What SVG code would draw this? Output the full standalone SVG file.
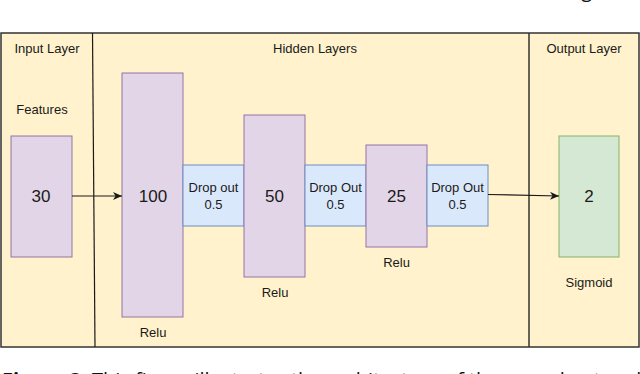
<svg xmlns="http://www.w3.org/2000/svg" width="640" height="374" viewBox="0 0 640 374">
<style>
text{font-family:"Liberation Sans",Arial,sans-serif;fill:#1a1a1a}
.hdr{font-size:13px;text-anchor:middle}
.lbl{font-size:13px;text-anchor:middle}
.num{font-size:17px;text-anchor:middle}
.drop{font-size:13px;text-anchor:middle}
.purple{fill:#e1d5e7;stroke:#9673a6;stroke-width:1}
.blue{fill:#dae8fc;stroke:#6c8ebf;stroke-width:1}
.green{fill:#d5e8d4;stroke:#82b366;stroke-width:1}
.cap{font-family:"Open Sans","Noto Sans",sans-serif;font-size:20px;fill:#111}
.line{stroke:#1a1a1a;stroke-width:1.2;fill:none}
</style>
<defs>
<marker id="arr" markerWidth="10" markerHeight="8" refX="9" refY="4" orient="auto" markerUnits="userSpaceOnUse">
<path d="M0,0 L9,4 L0,8 L2.5,4 Z" fill="#1a1a1a"/>
</marker>
</defs>
<rect width="640" height="374" fill="#ffffff"/>
<text class="cap" x="592" y="-3" text-anchor="end">g</text>
<g id="frame">
<rect x="1" y="33" width="638" height="314" fill="#fff2cc" stroke="#333333" stroke-width="1.5"/>
<line x1="92.5" y1="33" x2="95" y2="347" stroke="#1a1a1a" stroke-width="1.2"/>
<line x1="529" y1="33" x2="529" y2="347" stroke="#333333" stroke-width="1.5"/>
<text class="hdr" x="47" y="53">Input Layer</text>
<text class="hdr" x="315" y="53">Hidden Layers</text>
<text class="hdr" x="584" y="53">Output Layer</text>
</g>
<g id="input">
<text class="lbl" x="42" y="114">Features</text>
<rect class="purple" x="11" y="136" width="61" height="121"/>
<text class="num" x="41" y="202">30</text>
</g>
<g id="h100">
<rect class="purple" x="122" y="73" width="61" height="244"/>
<text class="num" x="153" y="202">100</text>
<text class="lbl" x="153" y="337">Relu</text>
</g>
<g id="drop1">
<rect class="blue" x="183" y="165" width="61" height="61"/>
<text class="drop" x="213.5" y="192">Drop out</text>
<text class="drop" x="213.5" y="209">0.5</text>
</g>
<g id="h50">
<rect class="purple" x="244" y="115" width="61" height="162"/>
<text class="num" x="274.5" y="202">50</text>
<text class="lbl" x="275" y="297">Relu</text>
</g>
<g id="drop2">
<rect class="blue" x="305" y="165" width="61" height="61"/>
<text class="drop" x="335.5" y="192">Drop Out</text>
<text class="drop" x="335.5" y="209">0.5</text>
</g>
<g id="h25">
<rect class="purple" x="366" y="145" width="61" height="102"/>
<text class="num" x="396.5" y="202">25</text>
<text class="lbl" x="396.5" y="267">Relu</text>
</g>
<g id="drop3">
<rect class="blue" x="427" y="165" width="61" height="61"/>
<text class="drop" x="457.5" y="192">Drop Out</text>
<text class="drop" x="457.5" y="209">0.5</text>
</g>
<g id="output">
<rect class="green" x="559" y="136" width="60" height="121"/>
<text class="num" x="589" y="202">2</text>
<text class="lbl" x="589" y="287">Sigmoid</text>
</g>
<g id="connectors">
<line class="line" x1="72" y1="196" x2="122" y2="196" marker-end="url(#arr)"/>
<line class="line" x1="488" y1="194.5" x2="559" y2="196" marker-end="url(#arr)"/>
</g>
<text class="cap" x="2" y="387"><tspan font-weight="bold">Figure 3:</tspan> This figure illustrates the architecture of the neural network</text>
</svg>
